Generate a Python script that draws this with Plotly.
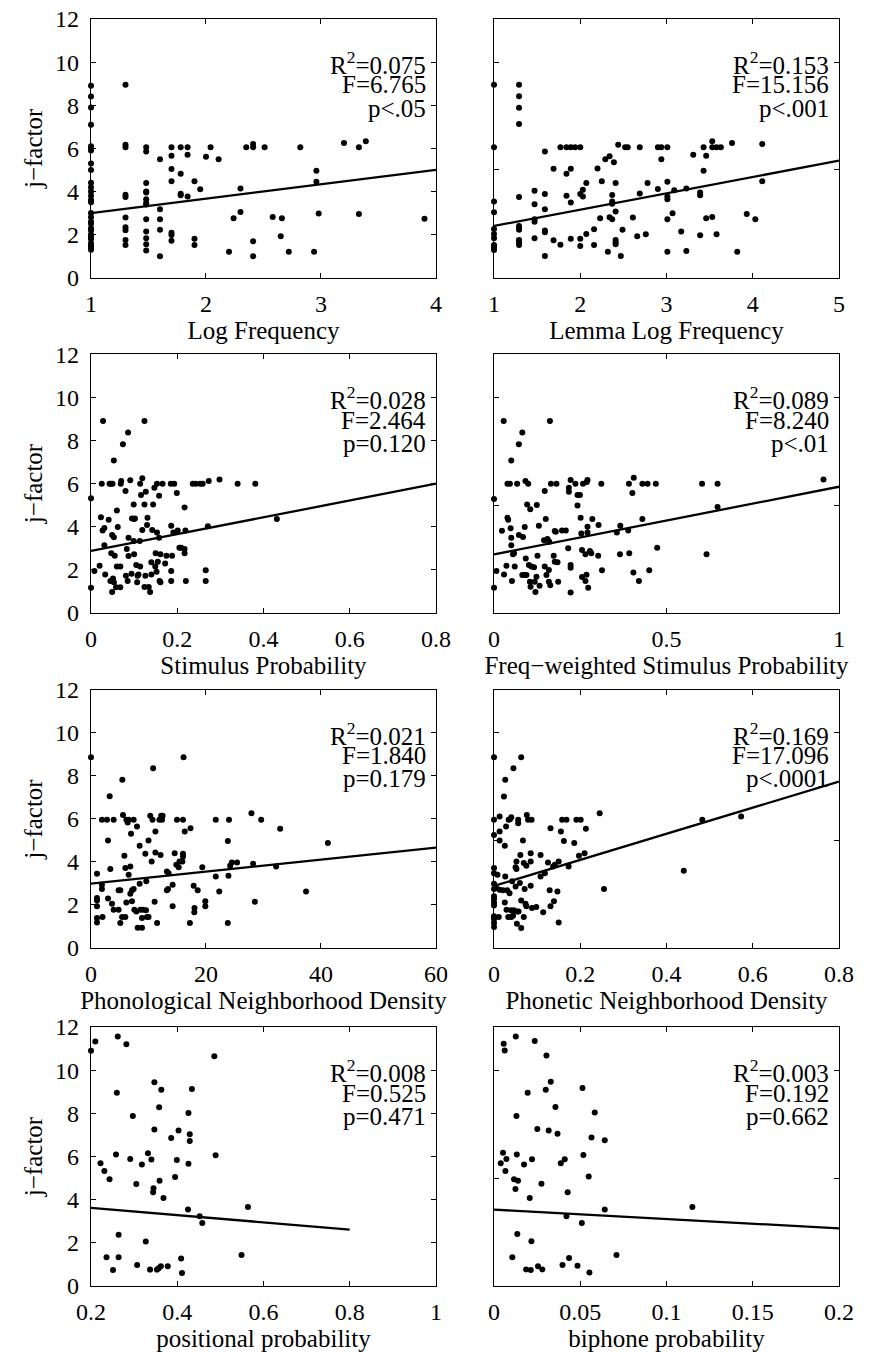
import plotly.graph_objects as go

# ---------------- data ----------------
logfreq_x = [1, 1, 1, 1, 1, 1, 1, 1, 1, 1, 1, 1, 1, 1, 1, 1, 1, 1, 1, 1, 1, 1, 1, 1, 1, 1, 1, 1,
             1.3, 1.3, 1.3, 1.3, 1.3, 1.3, 1.3, 1.3, 1.3, 1.3,
             1.48, 1.48, 1.48, 1.48, 1.48, 1.48, 1.48, 1.48, 1.48, 1.48, 1.48, 1.48, 1.48,
             1.6, 1.6, 1.6, 1.6, 1.6,
             1.7, 1.7, 1.7, 1.7, 1.7, 1.7, 1.7,
             1.78, 1.78, 1.78, 1.78,
             1.84, 1.84, 1.84,
             1.9, 1.9, 1.9,
             1.95, 2.0, 2.04, 2.11, 2.2, 2.24, 2.3, 2.3, 2.35, 2.41, 2.41, 2.41, 2.41,
             2.51, 2.58, 2.65, 2.66, 2.72, 2.82, 2.94, 2.96, 2.96, 2.98, 3.2, 3.33, 3.33, 3.39, 3.9]
logfreq_y = [8.9, 8.4, 7.9, 7.1, 6.1, 6.0, 5.9, 5.3, 5.0, 4.4, 4.2, 4.0, 3.8, 3.6, 3.5, 3.0, 2.8, 2.6,
             2.5, 2.3, 2.2, 2.0, 1.9, 1.8, 1.6, 1.5, 1.4, 1.3,
             8.95, 6.17, 6.05, 3.85, 3.74, 2.79, 2.34, 2.2, 1.75, 1.52,
             6.05, 5.86, 4.39, 4.0, 3.95, 3.64, 3.46, 3.4, 2.71, 2.14, 1.83, 1.55, 1.26,
             5.5, 3.18, 2.71, 2.22, 1.0,
             6.05, 5.66, 5.04, 4.48, 2.09, 1.98, 1.72,
             6.05, 4.82, 3.89, 3.83,
             6.05, 5.7, 3.77,
             4.48, 1.81, 1.52,
             4.1, 5.61, 6.05, 5.5, 1.21, 2.76, 4.14, 3.05, 6.05, 6.05, 6.2, 1.69, 1.0,
             6.05, 2.82, 1.92, 2.76, 1.21, 6.05, 1.21, 4.96, 4.45, 2.98, 6.25, 6.05, 2.95, 6.33, 2.73]

lemma_x = [1, 1, 1, 1, 1, 1, 1, 1, 1, 1,
           1.29, 1.29, 1.29, 1.29, 1.29, 1.29, 1.29, 1.29, 1.29, 1.29, 1.29,
           1.47, 1.47, 1.47, 1.47, 1.47,
           1.59, 1.59, 1.59, 1.59, 1.59, 1.59,
           1.69, 1.69, 1.77, 1.77, 1.84, 1.84, 1.84, 1.89, 1.89, 1.89, 1.89, 1.94,
           2.0, 2.0, 2.0, 2.0, 2.03, 2.03, 2.07, 2.07, 2.16, 2.16, 2.20, 2.23, 2.25, 2.29, 2.32,
           2.34, 2.34, 2.37, 2.37, 2.37, 2.37, 2.39, 2.41, 2.41, 2.41, 2.41, 2.41, 2.44, 2.47,
           2.49, 2.52, 2.55, 2.61, 2.66, 2.69, 2.69, 2.76, 2.78, 2.90, 2.90, 2.94, 2.94,
           3.01, 3.01, 3.01, 3.01, 3.01, 3.01, 3.07, 3.09, 3.17, 3.23, 3.23, 3.31,
           3.39, 3.39, 3.39, 3.43, 3.43, 3.46, 3.46, 3.53, 3.53, 3.53, 3.58, 3.58, 3.63,
           3.76, 3.82, 3.93, 4.03, 4.11, 4.11]
lemma_y = [8.95, 6.05, 3.53, 3.04, 2.26, 2.03, 1.83, 1.52, 1.41, 1.29,
           8.95, 8.42, 7.88, 7.13, 3.74, 2.40, 2.29, 2.22, 1.75, 1.64, 1.52,
           4.03, 3.41, 2.71, 2.60, 1.83,
           5.86, 3.88, 3.18, 2.19, 2.11, 1.01,
           5.05, 1.74, 6.05, 1.53, 6.05, 4.82, 3.80, 6.05, 5.05, 3.49, 1.81, 6.05,
           6.05, 3.88, 1.81, 1.47, 4.08, 3.77, 4.39, 2.03, 2.25, 1.52, 5.07, 2.76, 4.48, 5.49, 1.21,
           5.63, 2.81, 3.84, 3.53, 3.43, 2.71, 5.35, 4.39, 3.07, 1.75, 1.64, 1.55, 6.17, 1.01,
           2.22, 6.05, 6.05, 2.79, 1.92, 6.05, 3.91, 2.02, 4.39, 6.05, 4.11, 6.05, 5.5,
           6.05, 4.45, 3.77, 3.64, 2.71, 1.21, 2.99, 4.06, 2.14, 1.24, 4.14, 5.70,
           3.95, 3.83, 1.97, 6.05, 4.96, 5.66, 2.76, 6.33, 6.05, 2.82, 6.05, 2.02, 6.05,
           6.25, 1.21, 2.96, 2.71, 6.2, 4.48]

stim_x = [0, 0, 0.008, 0.02, 0.023, 0.025, 0.028, 0.027, 0.031, 0.031, 0.033, 0.041, 0.043, 0.045,
          0.046, 0.049, 0.047, 0.05, 0.049, 0.053, 0.053, 0.055, 0.051, 0.053, 0.06, 0.06, 0.062,
          0.058, 0.068, 0.068, 0.069, 0.07, 0.074, 0.08, 0.081, 0.083, 0.086, 0.087, 0.087, 0.085,
          0.091, 0.094, 0.095, 0.099, 0.1, 0.102, 0.099, 0.1, 0.105, 0.107, 0.108, 0.11, 0.113,
          0.114, 0.114, 0.116, 0.119, 0.119, 0.124, 0.124, 0.126, 0.127, 0.13, 0.131, 0.124, 0.134,
          0.137, 0.14, 0.14, 0.142, 0.144, 0.147, 0.149, 0.15, 0.152, 0.153, 0.153, 0.155, 0.158,
          0.158, 0.159, 0.161, 0.161, 0.166, 0.172, 0.175, 0.185, 0.186, 0.186, 0.186, 0.188, 0.193,
          0.191, 0.199, 0.201, 0.205, 0.209, 0.217, 0.217, 0.217, 0.219, 0.22, 0.236, 0.243, 0.253,
          0.259, 0.266, 0.266, 0.271, 0.273, 0.298, 0.34, 0.381, 0.431]
stim_y = [5.31, 1.16, 1.94, 2.18, 4.43, 5.99, 8.9, 3.82, 3.93, 3.13, 1.78, 4.32, 5.99, 1.47,
          5.99, 0.96, 2.76, 5.99, 3.61, 7.07, 3.5, 2.65, 1.59, 1.41, 4.75, 2.14, 3.98,
          1.18, 1.18, 2.14, 5.99, 6.11, 7.82, 5.65, 1.72, 2.96, 8.37, 3.48, 2.63, 1.47,
          6.15, 1.81, 4.37, 5.03, 4.35, 4.38, 3.33, 2.71, 2.21, 1.41, 1.72, 1.78, 3.33,
          2.14, 5.99, 5.46, 6.24, 3.84, 8.9, 5.03, 1.72, 5.62, 4.07, 4.41, 1.19, 1.19,
          0.96, 1.78, 2.34, 3.84, 5.03, 5.8, 2.14, 2.76, 1.9, 5.99, 3.73, 2.37, 3.48,
          5.43, 1.47, 2.71, 1.41, 5.99, 2.29, 2.65, 5.99, 1.94, 1.47, 4.04, 2.65, 5.99,
          3.73, 5.56, 3.82, 3.02, 3.02, 4.89, 2.96, 2.76, 3.82, 1.47, 5.99, 5.99, 5.99,
          5.99, 1.97, 1.47, 4.02, 6.11, 6.19, 5.99, 5.99, 4.35]

fwstim_x = [0, 0, 0.007, 0.023, 0.028, 0.029, 0.036, 0.039, 0.039, 0.041, 0.046, 0.048, 0.05, 0.05,
            0.05, 0.052, 0.055, 0.058, 0.06, 0.067, 0.072, 0.072, 0.082, 0.084, 0.082, 0.087, 0.089,
            0.091, 0.092, 0.094, 0.096, 0.099, 0.101, 0.104, 0.105, 0.108, 0.106, 0.116, 0.118, 0.12,
            0.123, 0.124, 0.126, 0.13, 0.132, 0.145, 0.147, 0.147, 0.15, 0.152, 0.155, 0.159, 0.159,
            0.16, 0.162, 0.163, 0.165, 0.173, 0.176, 0.176, 0.179, 0.181, 0.184, 0.186, 0.197, 0.208,
            0.215, 0.217, 0.217, 0.222, 0.222, 0.222, 0.222, 0.236, 0.242, 0.242, 0.249, 0.251, 0.253,
            0.255, 0.255, 0.258, 0.265, 0.265, 0.268, 0.269, 0.271, 0.271, 0.273, 0.271, 0.278, 0.282,
            0.285, 0.302, 0.303, 0.311, 0.313, 0.356, 0.365, 0.366, 0.389, 0.391, 0.392, 0.401, 0.404,
            0.405, 0.42, 0.43, 0.43, 0.445, 0.45, 0.469, 0.473, 0.603, 0.616, 0.648, 0.648, 0.955]
fwstim_y = [5.28, 1.16, 1.94, 3.81, 8.9, 1.78, 2.18, 4.41, 5.99, 4.32, 5.99, 3.92, 7.07, 3.48,
            3.13, 1.47, 2.71, 2.76, 2.14, 5.99, 7.82, 3.61, 8.37, 3.51, 1.75, 1.75, 3.98,
            6.11, 2.52, 1.75, 5.03, 5.99, 2.21, 1.44, 4.8, 2.14, 1.21, 2.11, 1.44, 0.96,
            1.67, 5.0, 2.65, 4.04, 1.25, 3.37, 5.65, 2.14, 4.35, 1.75, 3.42, 1.44, 1.98,
            3.3, 8.9, 1.28, 5.99, 2.65, 3.79, 2.37, 3.76, 5.99, 2.34, 1.44, 3.82, 3.82,
            2.99, 5.62, 5.8, 6.16, 2.21, 2.09, 0.94, 5.99, 5.46, 4.98, 5.46, 4.41, 3.68,
            2.91, 1.66, 5.99, 2.71, 1.47, 1.76, 6.07, 3.99, 6.16, 1.16, 3.73, 2.86, 2.76,
            4.35, 2.65, 4.07, 5.99, 1.97, 3.73, 2.71, 4.04, 3.82, 5.99, 2.76, 5.56, 1.87,
            6.27, 1.47, 4.35, 5.99, 5.99, 1.97, 5.99, 3.02, 5.99, 2.71, 5.99, 4.91, 6.19]

phono_x = [0, 1.04, 1.04, 1.04, 1.04, 1.04, 1.04, 1.9, 1.9, 1.9, 2.0, 2.78, 2.96, 2.96, 3.25, 3.36,
           3.65, 3.94, 3.94, 4.8, 4.8, 5.1, 5.1, 5.4, 5.45, 5.56, 5.8, 5.97, 5.97, 6.15, 6.15, 6.38,
           6.55, 6.55, 6.84, 6.84, 6.96, 7.13, 7.13, 7.42, 7.42, 7.54, 7.88, 8.0, 8.12, 8.46, 8.46,
           8.58, 8.87, 8.87, 9.04, 9.45, 9.57, 9.62, 9.74, 10.0, 10.0, 10.3, 10.55, 10.7, 10.8,
           11.07, 11.2, 11.2, 11.5, 11.9, 12.2, 12.1, 12.35, 12.45, 13.2, 13.2, 13.4, 13.5, 14.2,
           14.2, 14.55, 14.84, 14.95, 15.25, 15.4, 15.9, 16.0, 16.0, 16.0, 16.1, 16.3, 17.2, 17.3,
           17.85, 17.97, 18.0, 18.55, 19.36, 19.88, 19.88, 21.7, 21.7, 22.3, 23.8, 23.8, 23.9, 24.0,
           24.2, 24.5, 25.4, 27.9, 28.2, 28.5, 29.6, 32.2, 32.9, 37.4, 41.2]
phono_y = [8.87, 3.45, 2.32, 2.21, 1.94, 1.39, 1.19, 5.96, 2.74, 2.94, 1.44, 5.96, 5.0, 2.3, 7.06, 3.67,
           2.06, 5.96, 1.78, 1.78, 2.68, 2.68, 1.16, 1.44, 7.82, 6.18, 4.29, 3.72, 1.44, 5.96, 2.12, 5.84,
           5.96, 3.41, 3.79, 2.52, 5.31, 2.17, 2.68, 5.96, 2.74, 1.78, 1.7, 5.65, 0.94, 2.99, 4.75,
           1.78, 1.39, 0.94, 1.78, 4.38, 1.75, 3.1, 1.44, 5.0, 1.44, 6.15, 4.02, 5.96, 8.36,
           2.15, 5.42, 4.44, 1.16, 5.96, 6.15, 4.33, 5.96, 6.15, 3.56, 2.68, 2.74, 3.48, 2.94,
           1.94, 4.41, 3.87, 5.96, 3.76, 4.02, 4.02, 5.96, 4.38, 4.26, 8.87, 5.42, 1.16, 5.57,
           2.89, 1.66, 1.86, 2.68, 3.76, 2.17, 1.94, 5.96, 3.33, 2.63, 4.98, 1.16, 3.36, 5.96,
           3.82, 3.98, 3.98, 6.27, 3.92, 2.15, 5.96, 3.79, 5.54, 2.63, 4.88]

phonet_x = [0, 0, 0, 0, 0, 0, 0, 0, 0, 0, 0, 0, 0, 0, 0,
            0.005, 0.008, 0.011, 0.013, 0.013, 0.013, 0.013, 0.021, 0.023, 0.025, 0.025, 0.026, 0.026,
            0.028, 0.029, 0.031, 0.033, 0.034, 0.036, 0.037, 0.039, 0.04, 0.04, 0.042, 0.044, 0.045,
            0.046, 0.05, 0.05, 0.052, 0.052, 0.053, 0.054, 0.056, 0.056, 0.057, 0.06, 0.061, 0.063,
            0.063, 0.063, 0.067, 0.069, 0.069, 0.071, 0.073, 0.075, 0.075, 0.076, 0.079, 0.085, 0.085,
            0.085, 0.087, 0.088, 0.098, 0.108, 0.108, 0.114, 0.118, 0.125, 0.129, 0.131, 0.131, 0.137,
            0.139, 0.141, 0.147, 0.15, 0.15, 0.155, 0.158, 0.162, 0.168, 0.173, 0.186, 0.191, 0.197,
            0.201, 0.21, 0.213, 0.245, 0.255, 0.44, 0.483, 0.573]
phonet_y = [8.87, 5.96, 5.26, 3.72, 3.48, 2.99, 2.74, 2.4, 2.28, 2.12, 1.97, 1.47, 1.35, 1.16, 0.98,
            2.79, 3.41, 1.44, 6.11, 5.42, 5.0, 2.71, 2.68, 7.04, 4.75, 2.12, 7.82, 3.33,
            5.65, 1.78, 2.68, 1.44, 5.96, 2.55, 5.99, 1.75, 6.08, 1.44, 3.1, 1.5, 8.36,
            1.75, 2.86, 3.76, 4.02, 3.67, 1.13, 1.7, 5.96, 5.8, 1.7, 3.02, 4.33, 8.87,
            0.93, 2.21, 5.0, 3.95, 1.44, 2.74, 2.06, 3.82, 1.94, 6.19, 5.96, 4.41, 4.02,
            2.89, 5.96, 1.86, 1.9, 4.33, 3.33, 1.66, 3.48, 3.98, 2.68, 5.57, 1.94, 3.79,
            2.17, 3.87, 2.63, 4.02, 1.19, 5.42, 5.96, 4.98, 5.96, 3.79, 4.88, 5.96, 4.29,
            5.96, 4.41, 5.54, 6.27, 2.74, 3.59, 5.96, 6.11]

posprob_x = [0.2, 0.21, 0.222, 0.231, 0.236, 0.243, 0.251, 0.258, 0.26, 0.262, 0.264, 0.264, 0.282,
             0.291, 0.297, 0.305, 0.307, 0.318, 0.327, 0.332, 0.337, 0.34, 0.344, 0.345, 0.347, 0.347,
             0.353, 0.357, 0.358, 0.359, 0.362, 0.363, 0.368, 0.378, 0.386, 0.395, 0.399, 0.403, 0.409,
             0.411, 0.425, 0.426, 0.426, 0.429, 0.429, 0.434, 0.452, 0.458, 0.486, 0.489, 0.549, 0.564]
posprob_y = [10.9, 11.33, 5.69, 5.33, 1.33, 4.95, 0.74, 6.09, 8.95, 11.56, 2.38, 1.33, 11.2,
             5.89, 7.88, 4.73, 0.97, 5.63, 2.06, 6.15, 0.76, 5.86, 4.34, 4.53, 9.44, 7.25,
             0.76, 0.82, 8.28, 4.88, 0.91, 9.09, 4.08, 0.91, 6.86, 5.05, 5.84, 7.2, 1.28,
             0.6, 3.54, 5.66, 8.02, 7.03, 6.72, 9.13, 3.23, 2.92, 10.65, 6.06, 1.44, 3.66]

biph_x = [0.0039, 0.0052, 0.0056, 0.0062, 0.0066, 0.0072, 0.0106, 0.0116, 0.0124, 0.0126, 0.013,
          0.0132, 0.0135, 0.0139, 0.0174, 0.0186, 0.0195, 0.0207, 0.0213, 0.0217, 0.022, 0.0236,
          0.0251, 0.0255, 0.0275, 0.028, 0.030, 0.0304, 0.0317, 0.0329, 0.0356, 0.0368, 0.0387,
          0.0397, 0.041, 0.042, 0.0427, 0.0435, 0.0484, 0.0509, 0.0513, 0.0518, 0.0549, 0.0553,
          0.0565, 0.0584, 0.0642, 0.0642, 0.071, 0.115]
biph_y = [5.69, 6.17, 11.22, 10.91, 5.33, 5.89, 1.33, 4.95, 4.5, 11.56, 7.88,
          6.09, 2.41, 4.88, 5.63, 0.77, 8.95, 4.08, 0.74, 2.07, 5.87, 11.35,
          7.28, 0.91, 4.74, 0.77, 9.09, 10.68, 7.2, 9.47, 8.3, 7.05, 5.69,
          0.97, 5.87, 3.23, 4.34, 1.3, 0.94, 2.92, 9.17, 6.07, 5.07, 0.62,
          6.88, 8.04, 6.75, 3.54, 1.44, 3.66]

# regression line end points
fit_x = [[1, 4], [1, 5], [0, 0.8], [0, 1], [0, 60], [0.004, 0.8], [0.2, 0.8], [0, 0.2]]
fit_y = [[3.0, 5.0], [2.40, 5.43], [2.87, 5.99], [2.71, 5.85], [2.99, 4.67], [2.91, 7.74],
         [3.62, 2.61], [3.54, 2.67]]

r2_text = ["0.075", "0.153", "0.028", "0.089", "0.021", "0.169", "0.008", "0.003"]
f_text = ["6.765", "15.156", "2.464", "8.240", "1.840", "17.096", "0.525", "0.192"]
p_text = ["p<.05", "p<.001", "p=0.120", "p<.01", "p=0.179", "p<.0001", "p=0.471", "p=0.662"]

x_titles = ["Log Frequency", "Lemma Log Frequency", "Stimulus Probability",
            "Freq\u2212weighted Stimulus Probability", "Phonological Neighborhood Density",
            "Phonetic Neighborhood Density", "positional probability", "biphone probability"]
x_ranges = [[1, 4], [1, 5], [0, 0.8], [0, 1], [0, 60], [0, 0.8], [0.2, 1], [0, 0.2]]
x_tickvals = [[1, 2, 3, 4], [1, 2, 3, 4, 5], [0, 0.2, 0.4, 0.6, 0.8], [0, 0.5, 1],
              [0, 20, 40, 60], [0, 0.2, 0.4, 0.6, 0.8], [0.2, 0.4, 0.6, 0.8, 1],
              [0, 0.05, 0.1, 0.15, 0.2]]
x_ticktext = [["1", "2", "3", "4"], ["1", "2", "3", "4", "5"], ["0", "0.2", "0.4", "0.6", "0.8"],
              ["0", "0.5", "1"], ["0", "20", "40", "60"], ["0", "0.2", "0.4", "0.6", "0.8"],
              ["0.2", "0.4", "0.6", "0.8", "1"], ["0", "0.05", "0.1", "0.15", "0.2"]]
left_yticks = [0, 2, 4, 6, 8, 10, 12]
right_yticks = [0, 5, 10]
y_title = "j\u2212factor"

xs = [logfreq_x, lemma_x, stim_x, fwstim_x, phono_x, phonet_x, posprob_x, biph_x]
ys = [logfreq_y, lemma_y, stim_y, fwstim_y, phono_y, phonet_y, posprob_y, biph_y]

# ---------------- layout geometry ----------------
# (the page body adds an 8 px offset, so the figure is 8 px smaller on each axis)
FONT = "Liberation Serif"
col_dom = [[0.0, 0.4612], [0.5388, 1.0]]
row_dom = [[0.7958, 1.0], [0.5314, 0.7354], [0.2668, 0.4704], [0.0, 0.2044]]

fig = go.Figure()
layout = {}
annotations = []
for i in range(8):
    r, c = divmod(i, 2)
    n = "" if i == 0 else str(i + 1)
    xa, ya = "x" + n, "y" + n
    fig.add_trace(go.Scatter(x=xs[i], y=ys[i], mode="markers", xaxis=xa, yaxis=ya,
                             marker=dict(color="black", size=6), cliponaxis=False,
                             showlegend=False, hoverinfo="x+y"))
    fig.add_trace(go.Scatter(x=fit_x[i], y=fit_y[i], mode="lines", xaxis=xa, yaxis=ya,
                             line=dict(color="black", width=2.3), cliponaxis=False,
                             showlegend=False, hoverinfo="skip"))
    common = dict(showline=True, linecolor="black", linewidth=1.3, mirror="ticks",
                  ticks="inside", ticklen=5, tickwidth=1, tickcolor="black",
                  showgrid=False, zeroline=False, automargin=False,
                  ticklabeloverflow="allow",
                  tickfont=dict(family=FONT, size=24, color="black"))
    layout["xaxis" + n] = dict(common, domain=col_dom[c], anchor=ya, range=x_ranges[i],
                               tickmode="array", tickvals=x_tickvals[i], ticktext=x_ticktext[i],
                               ticklabelstandoff=4,
                               title=dict(text=x_titles[i], standoff=0,
                                          font=dict(family=FONT, size=25, color="black")))
    ydict = dict(common, domain=row_dom[r], anchor=xa, range=[0, 12], tickmode="array")
    if c == 0:
        ydict.update(tickvals=left_yticks, ticklabelstandoff=6,
                     title=dict(text=y_title, standoff=5,
                                font=dict(family=FONT, size=25, color="black")))
    else:
        ydict.update(tickvals=right_yticks, showticklabels=False)
    layout["yaxis" + n] = ydict
    lines = ["R<sup>2</sup>=" + r2_text[i], "F=" + f_text[i], p_text[i]]
    ypos = [0.83, 0.745, 0.655]
    for t, yp in zip(lines, ypos):
        annotations.append(dict(text=t, xref=xa + " domain", yref=ya + " domain",
                                x=0.977, y=yp, xanchor="right", yanchor="middle",
                                showarrow=False,
                                font=dict(family=FONT, size=25, color="black")))

fig.update_layout(**layout)
fig.update_layout(width=882, height=1344, margin=dict(l=83, r=51, t=11, b=66),
                  paper_bgcolor="white", plot_bgcolor="white",
                  annotations=annotations, font=dict(family=FONT, color="black"))
fig.write_html("out.html")
